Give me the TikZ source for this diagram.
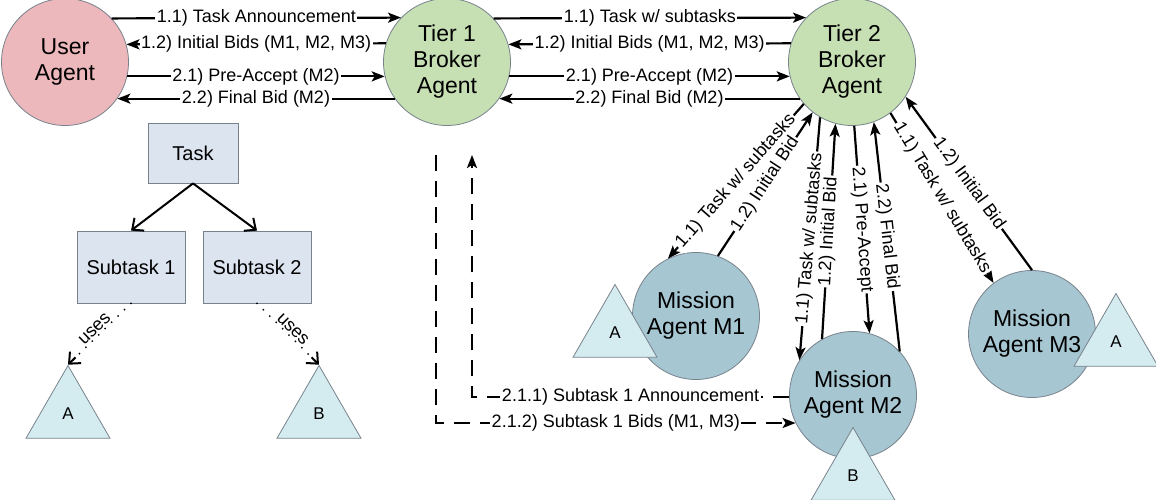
\documentclass[tikz,border=0pt]{standalone}
\usepackage{fontspec}
\setmainfont{Liberation Sans}
\usetikzlibrary{arrows.meta,shapes.geometric,calc}
\definecolor{userpink}{RGB}{236,184,188}
\definecolor{brokergreen}{RGB}{198,224,180}
\definecolor{missionblue}{RGB}{166,198,210}
\definecolor{tooltint}{RGB}{212,236,240}
\definecolor{taskgray}{RGB}{220,228,240}
\definecolor{edgegray}{RGB}{120,130,140}
\tikzset{
  agent/.style={circle, draw=edgegray, line width=0.8pt, minimum size=127pt, inner sep=0pt,
    align=center, font=\fontsize{23}{26}\selectfont},
  useragent/.style={agent, fill=userpink},
  broker/.style={agent, fill=brokergreen},
  mission/.style={agent, fill=missionblue},
  taskbox/.style={rectangle, draw=edgegray, fill=taskgray, line width=0.8pt,
    font=\fontsize{20}{23}\selectfont},
  tool/.style={regular polygon, regular polygon sides=3, draw=edgegray, fill=tooltint,
    line width=0.8pt, minimum size=97pt, inner sep=0pt, font=\fontsize{17}{19}\selectfont},
  msg/.style={line width=2.2pt, -{Stealth[length=13pt,width=10pt,inset=3pt]}},
  subtaskmsg/.style={msg, dash pattern=on 16pt off 10pt},
  tree/.style={line width=2pt, -{Straight Barb[length=9pt,width=16pt,line width=2pt]}},
  uses/.style={line width=2pt, line cap=round, dash pattern=on 0pt off 9pt},
  lbl/.style={fill=white, inner sep=1.5pt, font=\fontsize{18}{20}\selectfont},
}
\begin{document}
\begin{tikzpicture}[x=1pt, y=-1pt]
\useasboundingbox (0,0) rectangle (1156,500);
% agents
\node[useragent] (user) at (65,62) {User\\Agent};
\node[broker] (tierone) at (447,62) {Tier 1\\Broker\\Agent};
\node[broker] (tiertwo) at (852,62) {Tier 2\\Broker\\Agent};
\node[mission] (mone) at (696,316) {Mission\\Agent M1};
\node[mission] (mtwo) at (853,395) {Mission\\Agent M2};
\node[mission] (mthree) at (1032,334) {Mission\\Agent M3};
% capabilities of the mission agents
\node[tool] (toolmone) at (615,333) {A};
\node[tool] (toolmtwo) at (853,476) {B};
\node[tool] (toolmthree) at (1116,342) {A};

% user <-> tier 1
\draw[msg] (user.43.9) -- node[lbl] {1.1) Task Announcement} (tierone.136.1);
\draw[msg] (tierone.163.5) -- node[lbl] {1.2) Initial Bids (M1, M2, M3)} (user.16.5);
\draw[msg] (user.-13.7) -- node[lbl] {2.1) Pre-Accept (M2)} (tierone.193.7);
\draw[msg] (tierone.215.6) -- node[lbl] {2.2) Final Bid (M2)} (user.-35.6);
% tier 1 <-> tier 2
\draw[msg] (tierone.43.9) -- node[lbl] {1.1) Task w/ subtasks} (tiertwo.136.1);
\draw[msg] (tiertwo.163.5) -- node[lbl] {1.2) Initial Bids (M1, M2, M3)} (tierone.16.5);
\draw[msg] (tierone.-13.7) -- node[lbl] {2.1) Pre-Accept (M2)} (tiertwo.193.7);
\draw[msg] (tiertwo.215.6) -- node[lbl] {2.2) Final Bid (M2)} (tierone.-35.6);
% tier 2 <-> mission agents
\draw[msg] (tiertwo.221) -- node[lbl, sloped] {1.1) Task w/ subtasks} (mone.116);
\draw[msg] (mone.70) -- node[lbl, sloped] {1.2) Initial Bid} (tiertwo.232);
\draw[msg] (tiertwo.240) -- node[lbl, sloped] {1.1) Task w/ subtasks} (mtwo.147);
\draw[msg] (mtwo.119) -- node[lbl, sloped] {1.2) Initial Bid} (tiertwo.255);
\draw[msg] (tiertwo.272) -- node[lbl, sloped] {2.1) Pre-Accept} (mtwo.75);
\draw[msg] (mtwo.43) -- node[lbl, sloped] {2.2) Final Bid} (tiertwo.290);
\draw[msg] (tiertwo.307) -- node[lbl, sloped] {1.1) Task w/ subtasks} (mthree.127);
\draw[msg] (mthree.90) -- node[lbl, sloped] {1.2) Initial Bid} (tiertwo.327);
% subtask 1 goes back to tier 1
\coordinate (bidsend) at (436,155);
\coordinate (anncend) at (472,155);
\draw[subtaskmsg] (mtwo.182) -| node[lbl, pos=0.25] {2.1.1) Subtask 1 Announcement} (anncend);
\draw[subtaskmsg] (bidsend) |- node[lbl, pos=0.75] {2.1.2) Subtask 1 Bids (M1, M3)} (mtwo.206);

% task tree
\node[taskbox, minimum width=90pt, minimum height=60pt] (task) at (193,153) {Task};
\node[taskbox, minimum width=108pt, minimum height=72pt] (subone) at (131,267) {Subtask 1};
\node[taskbox, minimum width=108pt, minimum height=72pt] (subtwo) at (257,267) {Subtask 2};
\node[tool] (toola) at (68,414) {A};
\node[tool] (toolb) at (319,414) {B};
\draw[tree] (task.south) -- (subone.north);
\draw[tree] (task.south) -- (subtwo.north);
\draw[uses] (subone.south) -- node[sloped, above, inner sep=1pt, font=\fontsize{18}{20}\selectfont] {uses} (toola.corner 1);
\draw[uses] (subtwo.south) -- node[sloped, above, inner sep=1pt, font=\fontsize{18}{20}\selectfont] {uses} (toolb.corner 1);
% solid heads of the dotted arrows
\draw[tree] ($(subone.south)!0.88!(toola.corner 1)$) -- (toola.corner 1);
\draw[tree] ($(subtwo.south)!0.88!(toolb.corner 1)$) -- (toolb.corner 1);
\end{tikzpicture}
\end{document}
